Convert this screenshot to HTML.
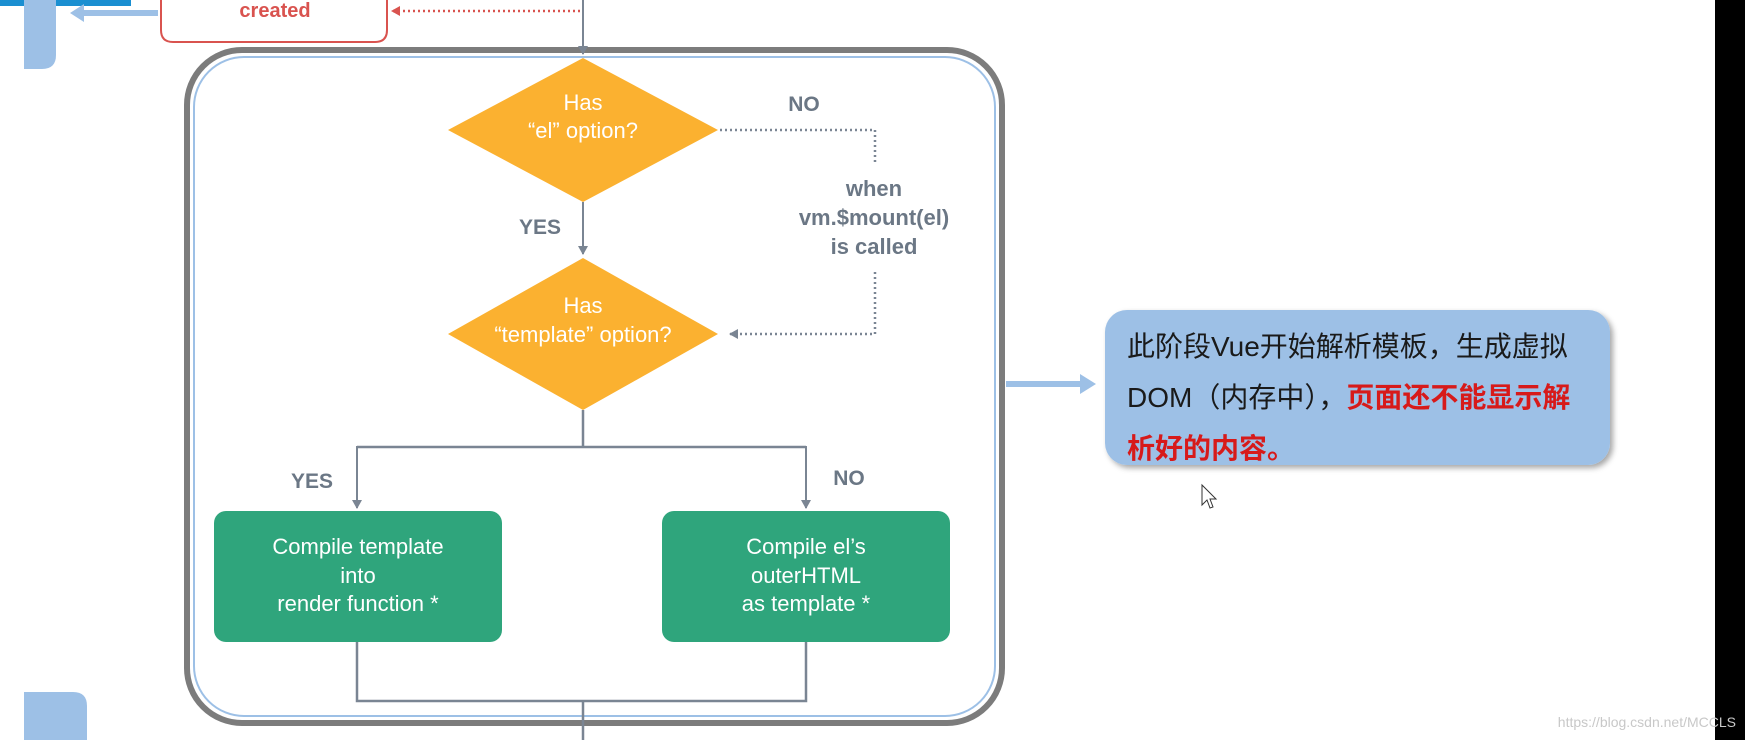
<!DOCTYPE html>
<html><head><meta charset="utf-8"><style>
html,body{margin:0;padding:0;background:#fff;}
body{width:1745px;height:740px;overflow:hidden;position:relative;}
svg{position:absolute;left:0;top:0;}
</style></head><body>
<svg width="1745" height="740" viewBox="0 0 1745 740" xmlns="http://www.w3.org/2000/svg" font-family="Liberation Sans, sans-serif">
<defs>
<marker id="ag" markerWidth="10" markerHeight="10" refX="8" refY="5" orient="auto" markerUnits="userSpaceOnUse"><path d="M0,0 L9,5 L0,10 z" fill="#7a8593"/></marker>
<marker id="ar" markerWidth="10" markerHeight="10" refX="8" refY="5" orient="auto" markerUnits="userSpaceOnUse"><path d="M0,0 L9,5 L0,10 z" fill="#d9534f"/></marker>
<filter id="sh" x="-10%" y="-10%" width="120%" height="130%"><feDropShadow dx="3" dy="3" stdDeviation="3" flood-color="#000" flood-opacity="0.35"/></filter>
</defs>
<rect x="1715" y="0" width="30" height="740" fill="#000"/>
<rect x="0" y="0" width="131" height="6" fill="#1a8fd1"/>
<path d="M24,0 H56 V55 Q56,69 42,69 H24 Z" fill="#9dc0e6"/>
<path d="M24,692 H73 Q87,692 87,706 V740 H24 Z" fill="#9dc0e6"/>
<line x1="158" y1="13" x2="82" y2="13" stroke="#9dc0e6" stroke-width="6"/>
<path d="M70,13 L84,4 L84,22 Z" fill="#9dc0e6"/>
<path d="M161,-10 V30 Q161,42 173,42 H375 Q387,42 387,30 V-10" fill="#fff" stroke="#d9534f" stroke-width="2"/>
<text x="275" y="17" font-size="20" font-weight="bold" fill="#d9534f" text-anchor="middle">created</text>
<line x1="580" y1="11" x2="392" y2="11" stroke="#d9534f" stroke-width="2.5" stroke-dasharray="2,3" marker-end="url(#ar)"/>
<rect x="187" y="50" width="815" height="673" rx="55" fill="#fff" stroke="#7c7c7c" stroke-width="6"/>
<rect x="194" y="57" width="801" height="659" rx="50" fill="none" stroke="#9dc0e6" stroke-width="2"/>
<line x1="583" y1="0" x2="583" y2="54" stroke="#7a8593" stroke-width="2" marker-end="url(#ag)"/>
<polygon points="583,58 718,130 583,202 448,130" fill="#fbb130"/>
<text x="583" y="110" font-size="22" fill="#fff" text-anchor="middle">Has</text>
<text x="583" y="138" font-size="22" fill="#fff" text-anchor="middle">“el” option?</text>
<line x1="583" y1="202" x2="583" y2="254" stroke="#7a8593" stroke-width="2" marker-end="url(#ag)"/>
<text x="540" y="234" font-size="21" font-weight="bold" fill="#6b7785" text-anchor="middle">YES</text>
<polygon points="583,258 718,334 583,410 448,334" fill="#fbb130"/>
<text x="583" y="313" font-size="22" fill="#fff" text-anchor="middle">Has</text>
<text x="583" y="342" font-size="22" fill="#fff" text-anchor="middle">“template” option?</text>
<text x="804" y="111" font-size="21" font-weight="bold" fill="#6b7785" text-anchor="middle">NO</text>
<path d="M720,130 H875 V162" fill="none" stroke="#7a8593" stroke-width="2.5" stroke-dasharray="2,3"/>
<path d="M875,272 V334 H730" fill="none" stroke="#7a8593" stroke-width="2.5" stroke-dasharray="2,3" marker-end="url(#ag)"/>
<text x="874" y="196" font-size="22" font-weight="bold" fill="#6b7785" text-anchor="middle">when</text>
<text x="874" y="225" font-size="22" font-weight="bold" fill="#6b7785" text-anchor="middle">vm.$mount(el)</text>
<text x="874" y="254" font-size="22" font-weight="bold" fill="#6b7785" text-anchor="middle">is called</text>
<path d="M583,410 V447 M357,447 H806" fill="none" stroke="#7a8593" stroke-width="2.5"/>
<line x1="357" y1="446" x2="357" y2="508" stroke="#7a8593" stroke-width="2" marker-end="url(#ag)"/>
<line x1="806" y1="446" x2="806" y2="508" stroke="#7a8593" stroke-width="2" marker-end="url(#ag)"/>
<text x="312" y="488" font-size="21" font-weight="bold" fill="#6b7785" text-anchor="middle">YES</text>
<text x="849" y="485" font-size="21" font-weight="bold" fill="#6b7785" text-anchor="middle">NO</text>
<rect x="214" y="511" width="288" height="131" rx="12" fill="#2fa57c"/>
<text x="358" y="554" font-size="22" fill="#fff" text-anchor="middle">Compile template</text>
<text x="358" y="583" font-size="22" fill="#fff" text-anchor="middle">into</text>
<text x="358" y="611" font-size="22" fill="#fff" text-anchor="middle">render function *</text>
<rect x="662" y="511" width="288" height="131" rx="12" fill="#2fa57c"/>
<text x="806" y="554" font-size="22" fill="#fff" text-anchor="middle">Compile el’s</text>
<text x="806" y="583" font-size="22" fill="#fff" text-anchor="middle">outerHTML</text>
<text x="806" y="611" font-size="22" fill="#fff" text-anchor="middle">as template *</text>
<path d="M357,642 V701 H806 V642 M583,701 V740" fill="none" stroke="#7a8593" stroke-width="2.5"/>
<line x1="1006" y1="384" x2="1082" y2="384" stroke="#9dc0e6" stroke-width="6"/>
<path d="M1096,384 L1080,374 L1080,394 Z" fill="#9dc0e6"/>
<rect x="1105" y="310" width="505" height="155" rx="22" fill="#9dc0e6" filter="url(#sh)"/>
<text x="1127" y="356" font-size="28" fill="#1a1a1a" font-family="Liberation Sans, Noto Sans CJK SC, sans-serif">此阶段Vue开始解析模板，生成虚拟</text>
<text x="1127" y="407" font-size="28" fill="#1a1a1a" font-family="Liberation Sans, Noto Sans CJK SC, sans-serif">DOM（内存中），<tspan fill="#d71a1a" font-weight="bold">页面还不能显示解</tspan></text>
<text x="1127" y="458" font-size="28" fill="#d71a1a" font-weight="bold" font-family="Liberation Sans, Noto Sans CJK SC, sans-serif">析好的内容。</text>
<path d="M1202,485 V505 L1207,500 L1210,508 L1213,507 L1210,499 L1216,499 Z" fill="#fff" stroke="#333" stroke-width="1"/>
<text x="1736" y="727" font-size="14" fill="#c8c8c8" text-anchor="end">https://blog.csdn.net/MCCLS</text>
</svg>
</body></html>
